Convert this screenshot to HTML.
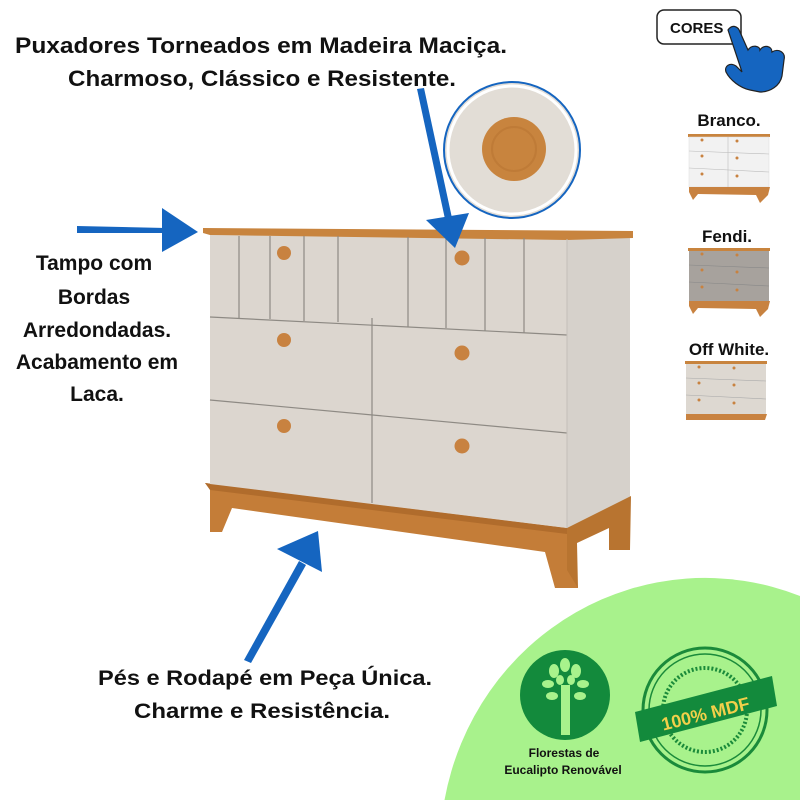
<!DOCTYPE html>
<html><head><meta charset="utf-8"><style>
html,body{margin:0;padding:0;background:#fff;width:800px;height:800px;overflow:hidden;}
svg{display:block;overflow:hidden;}
text{font-family:"Liberation Sans",sans-serif;font-weight:bold;fill:#111;}
</style></head><body>
<svg width="800" height="800" viewBox="0 0 800 800" overflow="hidden" xmlns="http://www.w3.org/2000/svg">
<path d="M444.5,800 A265,272 0 0,1 800,596 L800,800 Z" fill="#a8f28c"/>

<text x="261" y="53" font-size="22" text-anchor="middle" textLength="492" lengthAdjust="spacingAndGlyphs">Puxadores Torneados em Madeira Maciça.</text>
<text x="262" y="86" font-size="22" text-anchor="middle" textLength="388" lengthAdjust="spacingAndGlyphs">Charmoso, Clássico e Resistente.</text>

<g font-size="21" text-anchor="middle">
<text x="94" y="270">Tampo com</text>
<text x="94" y="304">Bordas</text>
<text x="97" y="337">Arredondadas.</text>
<text x="97" y="369">Acabamento em</text>
<text x="97" y="401">Laca.</text>
</g>
<text x="265" y="685" font-size="21" text-anchor="middle" textLength="334" lengthAdjust="spacingAndGlyphs">Pés e Rodapé em Peça Única.</text>
<text x="262" y="718" font-size="21" text-anchor="middle" textLength="256" lengthAdjust="spacingAndGlyphs">Charme e Resistência.</text>

<circle cx="512" cy="150" r="68" fill="#e2ddd6" stroke="#1565c0" stroke-width="2"/>
<circle cx="512" cy="150" r="64" fill="none" stroke="#fff" stroke-width="3"/>
<circle cx="514" cy="149" r="32" fill="#c8843e"/>
<circle cx="514" cy="149" r="22" fill="none" stroke="#b57230" stroke-width="2" opacity=".5"/>

<polygon points="567,238 630,236 630,498 567,530" fill="#d6d1cb"/>
<polygon points="205,483 567,528 578,588 555,588 545,552 232,508 222,532 210,532 210,488" fill="#c47d38"/>
<polygon points="205,483 567,528 567,534 210,490" fill="#b06c2c"/>
<polygon points="567,528 631,496 630,550 609,550 609,528 577,543 578,588 567,570" fill="#b87430"/>
<polygon points="210,235 567,239 567,528 210,484" fill="#dcd6cf"/>
<polygon points="203,228 633,231 633,238 567,240 210,235 203,233" fill="#c8843e"/>
<g stroke="#8e8a84" stroke-width="1.2" fill="none">
<line x1="210" y1="317" x2="567" y2="335"/>
<line x1="210" y1="400" x2="567" y2="433"/>
<line x1="372" y1="318" x2="372" y2="503"/>
<line x1="239" y1="236" x2="239" y2="318"/>
<line x1="270" y1="236" x2="270" y2="319"/>
<line x1="304" y1="236" x2="304" y2="321"/>
<line x1="338" y1="236" x2="338" y2="322"/>
<line x1="408" y1="237" x2="408" y2="327"/>
<line x1="446" y1="237" x2="446" y2="328"/>
<line x1="485" y1="238" x2="485" y2="331"/>
<line x1="524" y1="238" x2="524" y2="333"/>
</g>
<line x1="567" y1="239" x2="567" y2="528" stroke="#c4bfb9" stroke-width="1"/>
<g fill="#c88240">
<circle cx="284" cy="253" r="7"/><circle cx="462" cy="258" r="7.5"/>
<circle cx="284" cy="340" r="7"/><circle cx="462" cy="353" r="7.5"/>
<circle cx="284" cy="426" r="7"/><circle cx="462" cy="446" r="7.5"/>
</g>

<g fill="#1565c0" stroke="none">
<polygon points="77,226 166,228 166,233 77,233"/>
<polygon points="162,208 198,232 162,252"/>
<polygon points="417,89 424,88 455,232 448,233"/>
<polygon points="426,220 469,213 455,248"/>
<polygon points="244,660 251,663 306,565 299,561"/>
<polygon points="277,549 318,531 322,572"/>
</g>

<rect x="657" y="10" width="84" height="34" rx="7" fill="#fff" stroke="#222" stroke-width="1.5"/>
<text x="670" y="33" font-size="15">CORES</text>
<path d="M728,30 C732,24 738,26 740,32 L748,50 C752,44 760,46 760,50 C764,44 772,46 772,52 C778,48 786,52 784,60 L782,76 C780,86 770,92 760,92 L750,90 C740,88 730,80 726,72 C724,66 730,62 736,66 L742,72 Z" fill="#1565c0" stroke="#222" stroke-width="1.2"/>

<text x="729" y="126" font-size="17" text-anchor="middle">Branco.</text>
<g>
<rect x="688" y="134" width="82" height="3" fill="#c8843e"/>
<rect x="689" y="137" width="80" height="50" fill="#f2f2f2" stroke="#ddd" stroke-width=".5"/>
<g stroke="#bbb" stroke-width=".6"><line x1="689" y1="151" x2="769" y2="154"/><line x1="689" y1="168" x2="769" y2="172"/><line x1="728" y1="137" x2="728" y2="187"/></g>
<polygon points="689,187 770,187 768,195 760,203 756,195 698,194 693,200 689,192" fill="#c88240"/>
<g fill="#c88240"><circle cx="702" cy="140" r="1.5"/><circle cx="737" cy="141" r="1.5"/><circle cx="702" cy="156" r="1.5"/><circle cx="737" cy="158" r="1.5"/><circle cx="702" cy="174" r="1.5"/><circle cx="737" cy="176" r="1.5"/></g>
</g>
<text x="727" y="242" font-size="17" text-anchor="middle">Fendi.</text>
<g>
<rect x="688" y="248" width="82" height="3" fill="#c8843e"/>
<rect x="689" y="251" width="80" height="50" fill="#a7a29d"/>
<g stroke="#888" stroke-width=".6"><line x1="689" y1="265" x2="769" y2="268"/><line x1="689" y1="282" x2="769" y2="286"/></g>
<polygon points="689,301 770,301 768,309 760,317 756,309 698,308 693,314 689,306" fill="#c88240"/>
<g fill="#c88240"><circle cx="702" cy="254" r="1.5"/><circle cx="737" cy="255" r="1.5"/><circle cx="702" cy="270" r="1.5"/><circle cx="737" cy="272" r="1.5"/><circle cx="702" cy="287" r="1.5"/><circle cx="737" cy="290" r="1.5"/></g>
</g>
<text x="729" y="355" font-size="17" text-anchor="middle">Off White.</text>
<g>
<rect x="685" y="361" width="82" height="3" fill="#c8843e"/>
<rect x="686" y="364" width="80" height="50" fill="#ddd8d1"/>
<g stroke="#aaa" stroke-width=".6"><line x1="686" y1="378" x2="766" y2="381"/><line x1="686" y1="395" x2="766" y2="399"/></g>
<polygon points="686,414 767,414 765,420 686,420" fill="#c88240"/>
<g fill="#c88240"><circle cx="699" cy="367" r="1.5"/><circle cx="734" cy="368" r="1.5"/><circle cx="699" cy="383" r="1.5"/><circle cx="734" cy="385" r="1.5"/><circle cx="699" cy="400" r="1.5"/><circle cx="734" cy="403" r="1.5"/></g>
</g>

<circle cx="565" cy="695" r="45" fill="#138a3c"/>
<rect x="561" y="685" width="9" height="50" fill="#a8f28c"/>
<g fill="#a8f28c">
<ellipse cx="565" cy="665" rx="5" ry="7"/><ellipse cx="554" cy="671" rx="5" ry="7"/><ellipse cx="576" cy="671" rx="5" ry="7"/>
<ellipse cx="548" cy="684" rx="6" ry="4"/><ellipse cx="583" cy="684" rx="6" ry="4"/><ellipse cx="552" cy="696" rx="6" ry="4"/><ellipse cx="580" cy="696" rx="6" ry="4"/>
<ellipse cx="560" cy="680" rx="4" ry="5"/><ellipse cx="571" cy="680" rx="4" ry="5"/>
</g>
<text x="564" y="757" font-size="12" text-anchor="middle">Florestas de</text>
<text x="563" y="774" font-size="12" text-anchor="middle">Eucalipto Renovável</text>

<circle cx="705" cy="710" r="62" fill="none" stroke="#1a8a3a" stroke-width="3"/>
<circle cx="705" cy="710" r="56" fill="none" stroke="#1a8a3a" stroke-width="1.5"/>
<circle cx="705" cy="710" r="42" fill="none" stroke="#1a8a3a" stroke-width="4" stroke-dasharray="2 2"/>
<polygon points="635,712 772,676 777,706 640,742" fill="#138a3c"/>
<text x="705" y="720" font-size="18" style="fill:#f2d04a" text-anchor="middle" transform="rotate(-14 705 712)">100% MDF</text>
</svg>
</body></html>
